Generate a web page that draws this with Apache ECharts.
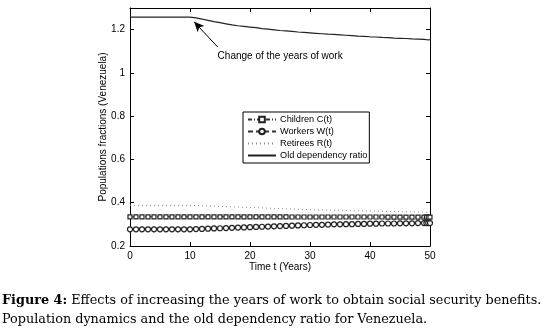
<!DOCTYPE html>
<html><head><meta charset="utf-8">
<script src="https://cdn.jsdelivr.net/npm/echarts@6/dist/echarts.min.js"></script>
<style>html,body{margin:0;padding:0;background:#fff}#c{width:545px;height:332px}</style>
</head><body><div id="c"></div>
<script>
var times = [0,1,2,3,4,5,6,7,8,9,10,11,12,13,14,15,16,17,18,19,20,21,22,23,24,25,26,27,28,29,30,31,32,33,34,35,36,37,38,39,40,41,42,43,44,45,46,47,48,49,49.4,49.7,50];
var children = [0.335,0.335,0.335,0.335,0.335,0.335,0.335,0.335,0.335,0.335,0.335,0.335,0.335,0.335,0.335,0.335,0.335,0.335,0.335,0.335,0.335,0.335,0.335,0.335,0.335,0.335,0.335,0.334,0.334,0.334,0.334,0.334,0.334,0.334,0.334,0.334,0.334,0.334,0.334,0.334,0.334,0.334,0.334,0.333,0.333,0.333,0.333,0.333,0.333,0.333,0.333,0.333,0.333];
var workers = [0.277,0.277,0.277,0.277,0.277,0.277,0.277,0.277,0.277,0.277,0.277,0.278,0.279,0.280,0.281,0.282,0.283,0.284,0.285,0.286,0.287,0.288,0.289,0.290,0.291,0.292,0.293,0.294,0.295,0.296,0.297,0.298,0.298,0.299,0.300,0.300,0.301,0.301,0.302,0.302,0.303,0.303,0.304,0.304,0.304,0.305,0.305,0.305,0.306,0.306,0.306,0.306,0.306];
var retirees = [0.388,0.388,0.388,0.388,0.388,0.388,0.388,0.388,0.388,0.388,0.388,0.387,0.386,0.385,0.384,0.383,0.382,0.381,0.380,0.379,0.378,0.377,0.376,0.375,0.374,0.373,0.372,0.371,0.370,0.369,0.368,0.367,0.367,0.366,0.365,0.365,0.364,0.363,0.363,0.362,0.362,0.361,0.360,0.360,0.359,0.359,0.358,0.358,0.357,0.357,0.356,0.356,0.356];
var ratio = [1.258,1.258,1.258,1.258,1.258,1.258,1.258,1.258,1.258,1.258,1.258,1.254,1.249,1.243,1.237,1.232,1.227,1.222,1.218,1.215,1.212,1.209,1.205,1.202,1.199,1.196,1.194,1.192,1.189,1.187,1.185,1.183,1.181,1.179,1.178,1.176,1.174,1.172,1.170,1.169,1.167,1.166,1.164,1.163,1.161,1.160,1.159,1.157,1.156,1.155,1.154,1.154,1.153];
var xTicks = [0,10,20,30,40,50];
var yTicks = [0.2,0.4,0.6,0.8,1,1.2];
var seriesNames = ['Children C(t)','Workers W(t)','Retirees R(t)','Old dependency ratio'];
var annotationText = 'Change of the years of work';
var xTitle = 'Time t (Years)';
var yTitle = 'Populations fractions (Venezuela)';

function pairs(v){ return times.map(function(t,i){ return [t, v[i]]; }); }
var F = '"Liberation Sans", Arial, sans-serif';
var SERIF = '"DejaVu Serif", "Liberation Serif", serif';
var chart = echarts.init(document.getElementById('c'), null, {renderer:'canvas'});
var axisCommon = {
  axisLine:{show:true, onZero:false, lineStyle:{color:'#000', width:1}},
  axisTick:{show:true, inside:true, length:4, lineStyle:{color:'#000'}},
  splitLine:{show:false}
};
var hideSym = {color:'transparent', borderColor:'transparent', opacity:0};
chart.setOption({
  animation:false,
  grid:{left:130, right:115, top:8, bottom:86, containLabel:false},
  xAxis:[
    Object.assign({type:'value', min:0, max:50, interval:10, position:'bottom',
      name:xTitle, nameLocation:'middle', nameGap:16, nameMoveOverlap:false,
      nameTextStyle:{fontFamily:F, fontSize:10, color:'#000'},
      axisLabel:{fontFamily:F, fontSize:10, color:'#000', margin:5}}, axisCommon),
    Object.assign({type:'value', min:0, max:50, interval:10, position:'top',
      axisLabel:{show:false}}, axisCommon)
  ],
  yAxis:[
    Object.assign({type:'value', min:0.2, max:1.3, interval:0.2, position:'left',
      name:yTitle, nameLocation:'middle', nameGap:22, nameMoveOverlap:false,
      nameTextStyle:{fontFamily:F, fontSize:10, color:'#000'},
      axisLabel:{fontFamily:F, fontSize:10, color:'#000', margin:5, showMaxLabel:false,
        formatter:function(v){ return yTicks.some(function(t){return Math.abs(t-v)<1e-9;}) ? String(+v.toFixed(1)) : ''; }}}, axisCommon),
    Object.assign({type:'value', min:0.2, max:1.3, interval:0.2, position:'right',
      axisLabel:{show:false}}, axisCommon)
  ],
  legend:{
    left:243, top:112, orient:'vertical', itemGap:3, itemWidth:28, itemHeight:7,
    padding:[3,2,3,4], backgroundColor:'#fff', borderColor:'#000', borderWidth:1, borderRadius:0,
    textStyle:{fontFamily:F, fontSize:9.2, color:'#000', padding:[0,0,0,-1]},
    data:[
      {name:seriesNames[0]},
      {name:seriesNames[1]},
      {name:seriesNames[2], itemStyle:hideSym},
      {name:seriesNames[3], itemStyle:hideSym}
    ]
  },
  series:[
    {name:seriesNames[0], type:'line', data:pairs(children), symbol:'rect', symbolSize:4,
      showSymbol:true, itemStyle:{color:'#fff', borderColor:'#222', borderWidth:1.2},
      lineStyle:{color:'#333', width:1, type:[4,2,1,2]}, z:3},
    {name:seriesNames[1], type:'line', data:pairs(workers), symbol:'circle', symbolSize:5,
      showSymbol:true, itemStyle:{color:'#fff', borderColor:'#222', borderWidth:1.2},
      lineStyle:{color:'#333', width:1, type:[5,3]}, z:3},
    {name:seriesNames[2], type:'line', data:pairs(retirees), symbol:'none', showSymbol:false,
      itemStyle:{color:'#888'}, lineStyle:{color:'#888', width:1, type:[1,3]}, z:2},
    {name:seriesNames[3], type:'line', data:pairs(ratio), symbol:'none', showSymbol:false,
      itemStyle:{color:'#222'}, lineStyle:{color:'#222', width:1.2}, z:2,
      markLine:{silent:true, animation:false, symbol:['none','arrow'], symbolSize:[7,10],
        label:{show:false}, lineStyle:{color:'#000', width:1, type:'solid'},
        data:[[{coord:[14.6,1.12]},{coord:[10.7,1.236]}]]},
      markPoint:{silent:true, symbol:'circle', symbolSize:0,
        label:{show:true, position:'right', distance:0, formatter:annotationText, fontFamily:F, fontSize:10, color:'#000'},
        data:[{coord:[14.6,1.077]}]}}
  ],
  graphic:[
    {type:'text', left:2, top:294, style:{
      text:'{b|Figure 4:} Effects of increasing the years of work to obtain social security benefits.',
      rich:{b:{fontFamily:SERIF, fontSize:12.8, fontWeight:'bold', fill:'#000'}},
      fontFamily:SERIF, fontSize:12.8, fill:'#000'}},
    {type:'text', left:2, top:313, style:{
      text:'Population dynamics and the old dependency ratio for Venezuela.',
      fontFamily:SERIF, fontSize:12.8, fill:'#000'}}
  ]
});
</script></body></html>
